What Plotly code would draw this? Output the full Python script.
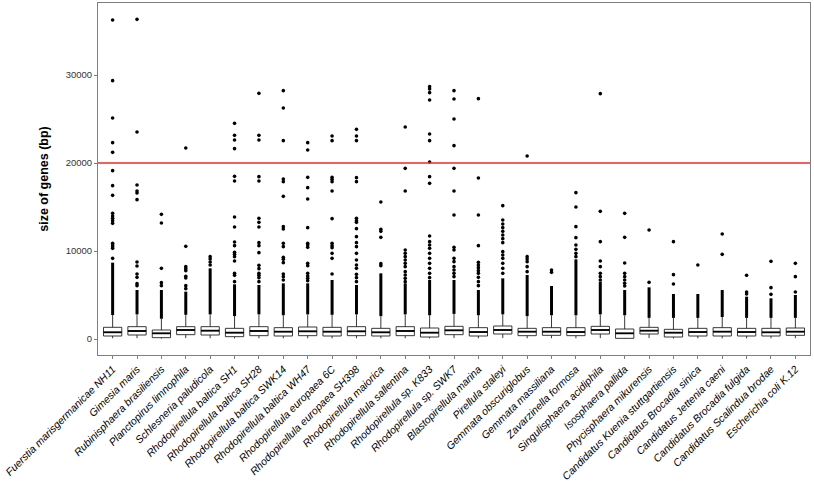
import plotly.graph_objects as go

species = [
    "Fuerstia marisgermanicae NH11", "Gimesia maris", "Rubinisphaera brasiliensis",
    "Planctopirus limnophila", "Schlesneria paludicola", "Rhodopirellula baltica SH1",
    "Rhodopirellula baltica SH28", "Rhodopirellula baltica SWK14", "Rhodopirellula baltica WH47",
    "Rhodopirellula europaea 6C", "Rhodopirellula europaea SH398", "Rhodopirellula maiorica",
    "Rhodopirellula sallentina", "Rhodopirellula sp. K833", "Rhodopirellula sp. SWK7",
    "Blastopirellula marina", "Pirellula staleyi", "Gemmata obscuriglobus",
    "Gemmata massiliana", "Zavarzinella formosa", "Singulisphaera acidiphila",
    "Isosphaera pallida", "Phycisphaera mikurensis", "Candidatus Kuenia stuttgartiensis",
    "Candidatus Brocadia sinica", "Candidatus Jettenia caeni", "Candidatus Brocadia fulgida",
    "Candidatus Scalindua brodae", "Escherichia coli K.12",
]

q1 = [341, 455, 152, 492, 454, 265, 379, 341, 379, 341, 379, 341, 379, 227, 492,
      341, 568, 379, 417, 379, 568, 76, 568, 227, 341, 341, 341, 341, 417]
median = [761, 909, 644, 1023, 947, 720, 909, 833, 871, 833, 871, 758, 909, 720, 985,
          795, 1023, 833, 833, 795, 1023, 644, 947, 720, 795, 833, 795, 758, 833]
q3 = [1330, 1402, 1023, 1402, 1402, 1212, 1402, 1288, 1364, 1326, 1402, 1212, 1402, 1250, 1439,
      1288, 1477, 1212, 1288, 1288, 1439, 1136, 1326, 1098, 1212, 1288, 1212, 1212, 1250]
lower = [80, 90, 40, 100, 90, 70, 80, 80, 80, 80, 80, 80, 80, 60, 100,
         80, 100, 80, 90, 80, 100, 30, 100, 60, 80, 80, 80, 80, 90]
upper = [2727, 2800, 2300, 2750, 2800, 2600, 2800, 2700, 2800, 2750, 2800, 2600, 2800, 2700, 2850,
         2700, 2800, 2600, 2700, 2700, 2800, 2700, 2400, 2400, 2400, 2500, 2400, 2400, 2400]
dense_top = [8675, 5568, 5568, 5379, 8030, 6212, 6136, 6326, 6326, 6705, 6136, 7462, 6326, 6705, 6705,
             5568, 6894, 7273, 6023, 9053, 6515, 5568, 5871, 5114, 5114, 5568, 4811, 4621, 5000]

outliers = [
    [36250, 29357, 25114, 22311, 21213, 19129, 17425, 16326, 14281, 13978, 13713, 13448, 13144,
     10872, 10682, 10493, 10304, 9167],
    [36326, 23523, 17500, 16818, 16590, 15834, 8750, 8296, 7387, 7008, 6288, 6060],
    [14167, 13182, 8030, 6401, 6060],
    [21705, 10530, 8220, 7993, 7765, 7121, 6932, 6060, 5720],
    [9356, 9091, 8750, 8409],
    [24508, 23144, 22614, 21629, 18485, 17955, 13864, 12727, 11023, 10606, 9848, 9621, 9356,
     8864, 7462, 7235, 6515],
    [27917, 23144, 22614, 18447, 17955, 13713, 13258, 12727, 10947, 10606, 9811, 8371, 7993,
     7462, 7235, 6970, 6515],
    [28220, 26250, 22538, 18182, 17879, 16212, 12765, 12500, 10872, 10493, 9280, 9053, 8674,
     7387, 7083, 6705],
    [22311, 21478, 18371, 17197, 15909, 12652, 10872, 10682, 10417, 8599, 8333, 7462, 7159,
     6894, 6629],
    [23069, 22538, 18371, 18144, 17879, 16818, 13675, 10872, 10606, 10379, 9735, 9167, 7387],
    [23826, 23069, 22538, 18333, 17879, 13712, 13447, 13258, 12538, 11629, 10947, 10492, 9735,
     8977, 8409, 8030, 7348, 6970, 6515],
    [15568, 12462, 12235, 11553, 8561, 8333],
    [24091, 19394, 16818, 10114, 9735, 9356, 8977, 8599, 8220, 7652, 7273, 6894, 6515],
    [28675, 28409, 27992, 27159, 23296, 22538, 20114, 18447, 17690, 11705, 11061, 10682, 10303,
     9735, 9167, 8599, 8030, 7462, 6970],
    [28220, 27273, 25000, 21970, 19394, 16818, 14091, 10417, 10114, 9167, 8788, 8220, 7841,
     7462, 7083],
    [27311, 18295, 14091, 10606, 8712, 8409, 8106, 7765, 7462, 7008, 6515, 6060],
    [15152, 13523, 13068, 12652, 12235, 11818, 11402, 10947, 9924, 9545, 9167, 8599, 8030, 7462],
    [20795, 9356, 9091, 8788, 8220, 7652],
    [7841, 7576],
    [16629, 15000, 12765, 11515, 10682, 10190, 9735, 9356],
    [27879, 14508, 11061, 8864, 8220, 7462, 7083, 6705],
    [14281, 11553, 8636, 7462, 7083, 6705, 6326, 6023],
    [12386, 6439],
    [11061, 7311, 6250],
    [8409],
    [11932, 9621],
    [7235, 5341, 5114],
    [8826, 5833, 5076],
    [8599, 7083, 5341],
]

threshold = 20000
y_ticks = [0, 10000, 20000, 30000]

n = len(species)
pos = list(range(n))
BOX_W = 0.75
INK = "#222222"
FONT = "Liberation Sans, Arial, sans-serif"

fig = go.Figure()

fig.add_trace(go.Box(
    x=pos, q1=q1, median=median, q3=q3, lowerfence=lower, upperfence=upper,
    width=BOX_W, fillcolor="white", line=dict(color=INK, width=0.9),
    whiskerwidth=0, boxpoints=False, showlegend=False, hoverinfo="skip",
))

# dense clusters of outliers
dx, dy = [], []
for i in pos:
    dx += [i, i, None]
    dy += [upper[i], dense_top[i], None]
fig.add_trace(go.Scatter(x=dx, y=dy, mode="lines", line=dict(color="black", width=3),
                         showlegend=False, hoverinfo="skip"))

# thick median lines
mx, my = [], []
for i in pos:
    mx += [i - BOX_W / 2, i + BOX_W / 2, None]
    my += [median[i], median[i], None]
fig.add_trace(go.Scatter(x=mx, y=my, mode="lines", line=dict(color="black", width=1.8),
                         showlegend=False, hoverinfo="skip"))

# individual outliers
ox, oy = [], []
for i in pos:
    for v in outliers[i]:
        ox.append(i)
        oy.append(v)
fig.add_trace(go.Scatter(x=ox, y=oy, mode="markers",
                         marker=dict(color="black", size=3.6, line=dict(width=0)),
                         showlegend=False, hoverinfo="skip"))

fig.add_shape(type="line", xref="paper", x0=0, x1=1, yref="y", y0=threshold, y1=threshold,
              line=dict(color="#ee2a2a", width=1.6), opacity=1, layer="above")

fig.update_layout(
    template="simple_white",
    width=814, height=481,
    margin=dict(l=98, r=4, t=3, b=126, autoexpand=False),
    paper_bgcolor="white", plot_bgcolor="white",
    font=dict(family=FONT, color="#333333"),
    showlegend=False,
    xaxis=dict(
        range=[-0.6, n - 0.4], tickmode="array", tickvals=pos,
        ticktext=[f"<i>{s}</i>" for s in species],
        tickangle=-45, tickfont=dict(family=FONT, size=10.5, color="black"),
        ticklabeloverflow="allow",
        showline=True, mirror=True, linecolor="#7f7f7f", linewidth=1, automargin=False,
        ticks="outside", ticklen=3, tickcolor="#7f7f7f", showgrid=False, zeroline=False,
    ),
    yaxis=dict(
        range=[-1818, 38182], tickmode="array", tickvals=y_ticks,
        ticktext=[str(t) for t in y_ticks], automargin=False,
        tickfont=dict(family=FONT, size=9.5, color="#333333"),
        showline=True, mirror=True, linecolor="#7f7f7f", linewidth=1,
        ticks="outside", ticklen=3, tickcolor="#7f7f7f", showgrid=False, zeroline=False,
        title=dict(text="<b>size of genes (bp)</b>", font=dict(family=FONT, size=12.5, color="black"),
                   standoff=14),
    ),
)

fig.write_html("out.html", config={"displayModeBar": False},
               post_script="document.body.style.margin='0';")
